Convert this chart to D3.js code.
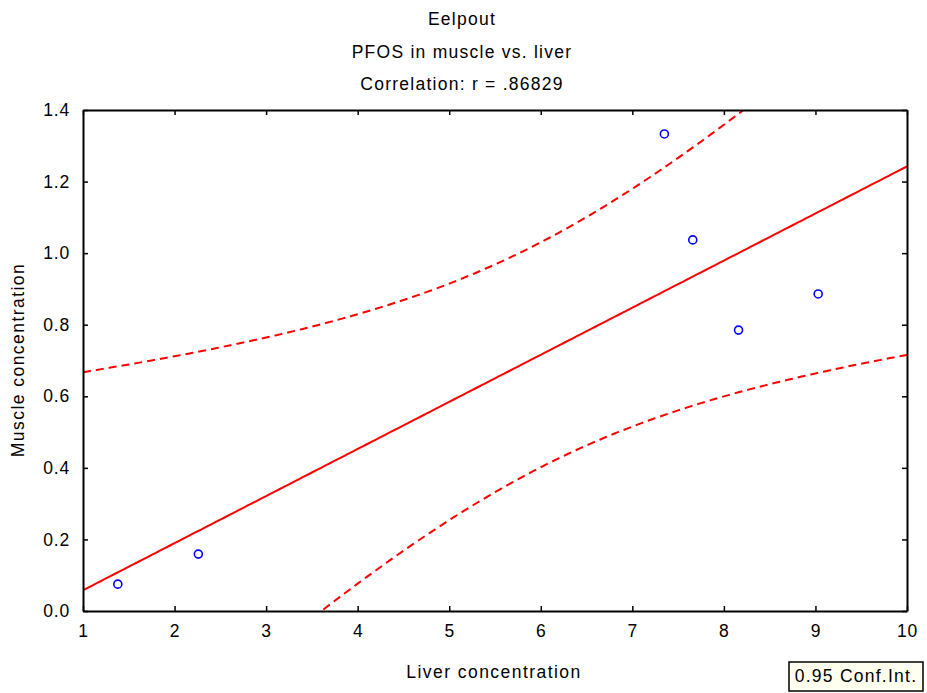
<!DOCTYPE html>
<html>
<head>
<meta charset="utf-8">
<script src="https://cdn.jsdelivr.net/npm/d3@7"></script>
<style>
  body { margin: 0; background: #fff; }
  text { font-family: "Liberation Sans", Arial, sans-serif; fill: #000; }
</style>
</head>
<body>
<div class="chart"></div>
<script>
// data
const liver  = [1.38, 2.26, 7.35, 7.66, 8.16, 9.03];
const muscle = [0.075, 0.159, 1.333, 1.037, 0.785, 0.886];
const xTicks = [1, 2, 3, 4, 5, 6, 7, 8, 9, 10];
const yTicks = [0.0, 0.2, 0.4, 0.6, 0.8, 1.0, 1.2, 1.4];
const titles = ['Eelpout', 'PFOS in muscle vs. liver', 'Correlation: r = .86829'];

const W = 927, H = 693;
const margin = {top: 110, left: 83, right: 20, bottom: 82};
const width = W - margin.left - margin.right;
const height = H - margin.top - margin.bottom;
const fs = 17.5, ls = 1.25;

const svg = d3.select('.chart')
    .append('svg')
    .attr('width', W)
    .attr('height', H);

const g = svg.append('g')
    .attr('transform', `translate(${margin.left},${margin.top})`);

const x = d3.scaleLinear().domain([1, 10]).range([0, width]);
const y = d3.scaleLinear().domain([0, 1.4]).range([height, 0]);

// titles
svg.selectAll('.title')
    .data(titles)
    .join('text')
    .attr('class', 'title')
    .attr('x', 462)
    .attr('y', (d, i) => 25 + i * 32.5)
    .attr('text-anchor', 'middle')
    .attr('font-size', fs)
    .attr('letter-spacing', ls)
    .text(d => d);

// regression + 95% confidence band, computed from the points
const n = liver.length;
const mx = d3.mean(liver), my = d3.mean(muscle);
const sxx = d3.sum(liver, v => (v - mx) ** 2);
const sxy = d3.sum(liver, (v, i) => (v - mx) * (muscle[i] - my));
const slope = sxy / sxx;
const icpt = my - slope * mx;
const sse = d3.sum(liver, (v, i) => (muscle[i] - (icpt + slope * v)) ** 2);
const s = Math.sqrt(sse / (n - 2));
const tval = 2.7764; // t(0.975, df = 4)

const grid = d3.range(1, 10.001, 0.05);
const band = grid.map(v => {
    const fit = icpt + slope * v;
    const hw = tval * s * Math.sqrt(1 / n + (v - mx) ** 2 / sxx);
    return {x: v, fit, lo: fit - hw, hi: fit + hw};
});

svg.append('clipPath').attr('id', 'clip')
    .append('rect').attr('width', width).attr('height', height);

const plot = g.append('g').attr('clip-path', 'url(#clip)');

const lineOf = key => d3.line().x(d => x(d.x)).y(d => y(d[key]));

plot.append('path')
    .datum(band)
    .attr('fill', 'none')
    .attr('stroke', '#ff0000')
    .attr('stroke-width', 2)
    .attr('d', lineOf('fit'));

['lo', 'hi'].forEach(k => {
    plot.append('path')
        .datum(band)
        .attr('fill', 'none')
        .attr('stroke', '#ff0000')
        .attr('stroke-width', 2)
        .attr('stroke-dasharray', '8,5')
        .attr('d', lineOf(k));
});

// points
g.selectAll('circle')
    .data(liver)
    .join('circle')
    .attr('cx', d => x(d))
    .attr('cy', (d, i) => y(muscle[i]))
    .attr('r', 4)
    .attr('fill', 'white')
    .attr('stroke', '#0000ff')
    .attr('stroke-width', 1.6);

// axes with inward ticks on all four sides
function frame(axis, transform) {
    g.append('g')
        .attr('transform', transform)
        .call(axis)
        .call(a => a.select('.domain').attr('stroke-width', 2))
        .call(a => a.selectAll('.tick line').attr('stroke-width', 1.5))
        .call(a => a.selectAll('.tick text')
            .attr('font-size', fs)
            .attr('letter-spacing', 0.8)
            .attr('font-family', '"Liberation Sans", Arial, sans-serif'));
}

frame(d3.axisBottom(x).tickValues(xTicks).tickSizeInner(-5).tickSizeOuter(0).tickPadding(14).tickFormat(d3.format('d')),
      `translate(0,${height})`);
frame(d3.axisTop(x).tickValues(xTicks).tickSizeInner(-5).tickSizeOuter(0).tickFormat(''), 'translate(0,0)');
frame(d3.axisLeft(y).tickValues(yTicks).tickSizeInner(-5).tickSizeOuter(0).tickPadding(13).tickFormat(d3.format('.1f')),
      'translate(0,0)');
frame(d3.axisRight(y).tickValues(yTicks).tickSizeInner(-5).tickSizeOuter(0).tickFormat(''), `translate(${width},0)`);

// axis titles
svg.append('text')
    .attr('x', 494)
    .attr('y', 678)
    .attr('text-anchor', 'middle')
    .attr('font-size', fs)
    .attr('letter-spacing', ls + 0.2)
    .text('Liver concentration');

svg.append('text')
    .attr('transform', 'translate(24,360) rotate(-90)')
    .attr('text-anchor', 'middle')
    .attr('font-size', fs)
    .attr('letter-spacing', ls + 0.2)
    .text('Muscle concentration');

// legend box
svg.append('rect')
    .attr('x', 789)
    .attr('y', 662)
    .attr('width', 134)
    .attr('height', 29)
    .attr('fill', '#fffff0')
    .attr('stroke', '#000')
    .attr('stroke-width', 1.5);

svg.append('text')
    .attr('x', 856)
    .attr('y', 682)
    .attr('text-anchor', 'middle')
    .attr('font-size', fs)
    .attr('letter-spacing', ls)
    .text('0.95 Conf.Int.');
</script>
</body>
</html>
